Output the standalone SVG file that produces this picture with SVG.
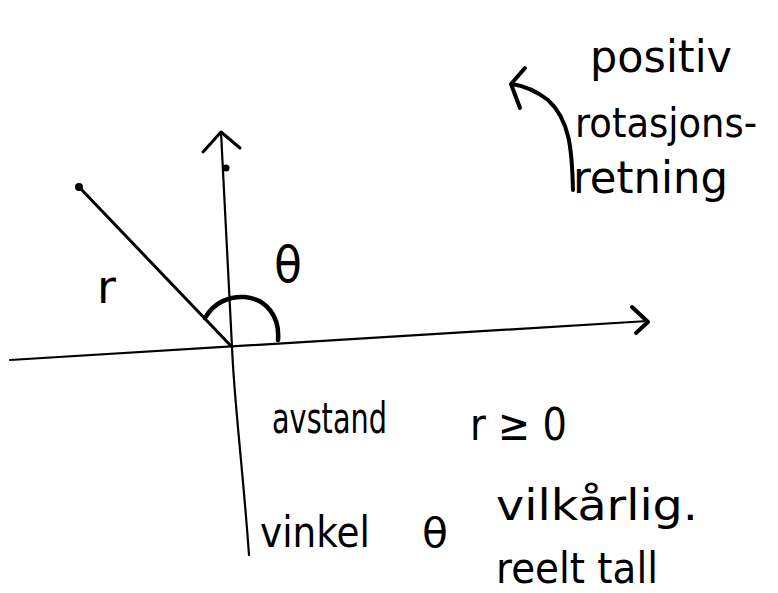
<svg xmlns="http://www.w3.org/2000/svg" width="778" height="593" viewBox="0 0 778 593">
<style>
.ln{fill:none;stroke:#000;stroke-linecap:round;stroke-linejoin:round}
.t{font-family:"DejaVu Sans","Liberation Sans",sans-serif;fill:#000}
</style>
<rect width="778" height="593" fill="#fff"/>
<g id="connectors">
<path id="x-axis" class="ln" stroke-width="2.2" d="M10,360 L648,321"/>
<polyline class="ln" stroke-width="4" points="632,307 648,322 636,333"/>
<path id="y-axis" class="ln" stroke-width="2.2" d="M249,555 C243,470 234,400 232,347 L221,132"/>
<polyline class="ln" stroke-width="3" points="203,152 221,132 240,148"/>
<path id="r-line" class="ln" stroke-width="3" d="M80,188 L232,347"/>
<path id="angle-arc" class="ln" stroke-width="4.5" d="M205,318 C214,302 230,296 245,297 C266,299 280,316 278,340"/>
<path id="rotation-arrow" class="ln" stroke-width="4" d="M573,190 C572,150 570,120 548,100 C535,90 525,86 512,84"/>
<polyline class="ln" stroke-width="4" points="525,68 511,84 520,108"/>
</g>
<g id="point">
<circle cx="79" cy="187" r="4"/>
</g>
<g id="y-dot">
<circle cx="226" cy="168" r="3.5"/>
</g>
<g id="label-r">
<text class="t" x="97" y="303" font-size="46">r</text>
</g>
<g id="label-theta">
<text class="t" x="274" y="282" font-size="50" textLength="28" lengthAdjust="spacingAndGlyphs">θ</text>
</g>
<g id="note-rotation">
<text class="t" x="590" y="72" font-size="44" textLength="142" lengthAdjust="spacingAndGlyphs">positiv</text>
<text class="t" x="575" y="137" font-size="40" textLength="182" lengthAdjust="spacingAndGlyphs">rotasjons-</text>
<text class="t" x="573" y="193" font-size="44" textLength="155" lengthAdjust="spacingAndGlyphs">retning</text>
</g>
<g id="note-distance">
<text class="t" x="272" y="433" font-size="42" textLength="115" lengthAdjust="spacingAndGlyphs">avstand</text>
<text class="t" x="470" y="440" font-size="44" textLength="97" lengthAdjust="spacingAndGlyphs">r ≥ 0</text>
</g>
<g id="note-angle">
<text class="t" x="260" y="547" font-size="42" textLength="110" lengthAdjust="spacingAndGlyphs">vinkel</text>
<text class="t" x="422" y="547" font-size="40" textLength="26" lengthAdjust="spacingAndGlyphs">θ</text>
<text class="t" x="496" y="520" font-size="42" textLength="202" lengthAdjust="spacingAndGlyphs">vilkårlig.</text>
<text class="t" x="496" y="583" font-size="42" textLength="162" lengthAdjust="spacingAndGlyphs">reelt tall</text>
</g>
</svg>
